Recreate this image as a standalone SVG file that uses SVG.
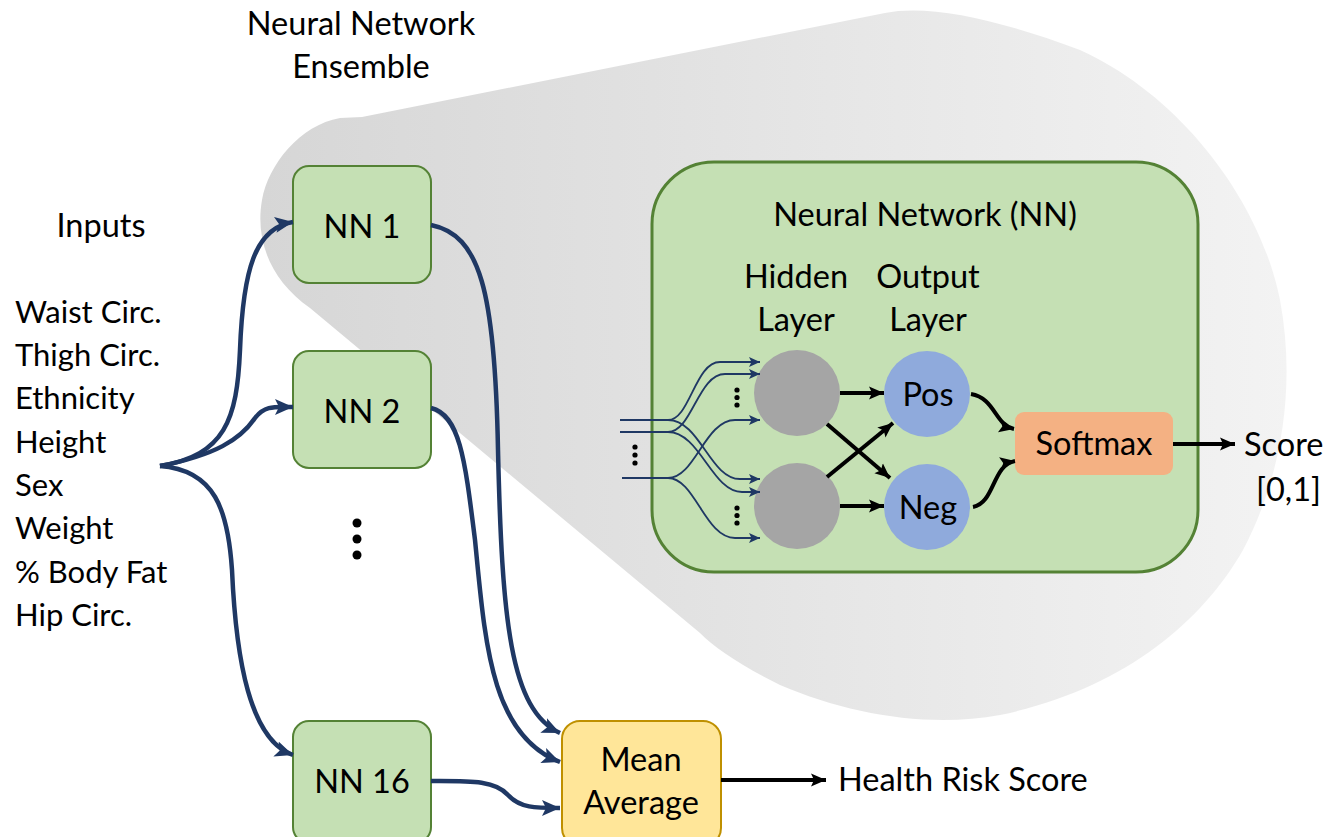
<svg xmlns="http://www.w3.org/2000/svg" width="1341" height="837" viewBox="0 0 1341 837">
<defs>
<linearGradient id="gz" gradientUnits="userSpaceOnUse" x1="260" y1="0" x2="1290" y2="0">
<stop offset="0" stop-color="#d6d6d6"/>
<stop offset="1" stop-color="#f3f3f3"/>
</linearGradient>
<marker id="an" markerUnits="userSpaceOnUse" markerWidth="20" markerHeight="20" viewBox="0 0 20 20" refX="18" refY="10" orient="auto">
<path d="M0,2 L18,10 L0,18 L4,10 Z" fill="#1f3864"/>
</marker>
<marker id="as" markerUnits="userSpaceOnUse" markerWidth="12" markerHeight="12" viewBox="0 0 12 12" refX="11" refY="6" orient="auto">
<path d="M0,1 L11,6 L0,11 L2.5,6 Z" fill="#1f3864"/>
</marker>
<marker id="ab" markerUnits="userSpaceOnUse" markerWidth="16" markerHeight="16" viewBox="0 0 16 16" refX="15" refY="8" orient="auto">
<path d="M0,1.5 L15,8 L0,14.5 L3,8 Z" fill="#000"/>
</marker>
<style>
text{font-family:Lato,"Open Sans","Liberation Sans",sans-serif;fill:#000}
.lbl{font-size:32.5px}
.inp{font-size:31px}
.mid{text-anchor:middle}
.nnbox{fill:#c5e0b4;stroke:#548235;stroke-width:2}
.thick{fill:none;stroke:#1f3864;stroke-width:4.5;marker-end:url(#an)}
.thin{fill:none;stroke:#1f3864;stroke-width:1.8}
.thinA{fill:none;stroke:#1f3864;stroke-width:1.8;marker-end:url(#as)}
.blk{fill:none;stroke:#000;stroke-width:4;marker-end:url(#ab)}
</style>
</defs>

<g id="zoom-region">
<path d="M362,117 L885,13 C930,4 1000,20 1080,50 C1180,95 1260,200 1280,300 C1295,380 1285,470 1243,550 C1200,625 1120,690 1000,715 C930,728 850,715 780,685 C740,665 715,648 700,633 L310,308 C270,280 255,240 262,200 C268,165 300,125 340,118 Z" fill="url(#gz)"/>
</g>

<g id="titles">
<text class="lbl mid" x="361" y="35">Neural Network</text>
<text class="lbl mid" x="361" y="78">Ensemble</text>
<text class="lbl mid" x="101" y="237">Inputs</text>
</g>

<g id="inputs-list">
<text class="inp" x="15" y="323">Waist Circ.</text>
<text class="inp" x="15" y="366">Thigh Circ.</text>
<text class="inp" x="15" y="409">Ethnicity</text>
<text class="inp" x="15" y="453">Height</text>
<text class="inp" x="15" y="496">Sex</text>
<text class="inp" x="15" y="539">Weight</text>
<text class="inp" x="15" y="583">% Body Fat</text>
<text class="inp" x="15" y="626">Hip Circ.</text>
</g>

<g id="nn1">
<rect class="nnbox" x="293" y="166" width="138" height="117" rx="16"/>
<text class="lbl mid" x="362" y="238">NN 1</text>
</g>
<g id="nn2">
<rect class="nnbox" x="293" y="351" width="138" height="117" rx="16"/>
<text class="lbl mid" x="362" y="423">NN 2</text>
</g>
<g id="ellipsis">
<circle cx="357" cy="523" r="4.5"/>
<circle cx="357" cy="539" r="4.5"/>
<circle cx="357" cy="555" r="4.5"/>
</g>
<g id="nn16">
<rect class="nnbox" x="293" y="721" width="138" height="122" rx="16"/>
<text class="lbl mid" x="362" y="793">NN 16</text>
</g>
<g id="mean">
<rect x="562" y="721" width="159" height="125" rx="18" fill="#ffe699" stroke="#bf9000" stroke-width="2"/>
<text class="lbl mid" x="641" y="771">Mean</text>
<text class="lbl mid" x="641" y="814">Average</text>
</g>
<g id="health">
<text class="lbl" x="838" y="791">Health Risk Score</text>
</g>

<g id="nn-detail">
<rect x="652" y="162" width="546" height="410" rx="62" fill="#c5e0b4" stroke="#548235" stroke-width="3"/>
<text class="lbl mid" x="925" y="226">Neural Network (NN)</text>
<text class="lbl mid" x="796" y="288">Hidden</text>
<text class="lbl mid" x="796" y="331">Layer</text>
<text class="lbl mid" x="928" y="288">Output</text>
<text class="lbl mid" x="928" y="331">Layer</text>
</g>
<g id="hidden1"><circle cx="797" cy="393" r="43" fill="#a5a5a5"/></g>
<g id="hidden2"><circle cx="797" cy="506" r="43" fill="#a5a5a5"/></g>
<g id="pos"><circle cx="927" cy="394" r="43" fill="#8faadc"/><text class="lbl mid" x="928" y="406">Pos</text></g>
<g id="neg"><circle cx="927" cy="507" r="43" fill="#8faadc"/><text class="lbl mid" x="928" y="519">Neg</text></g>
<g id="softmax"><rect x="1015" y="412" width="158" height="63" rx="9" fill="#f4b183"/><text class="lbl mid" x="1094" y="455">Softmax</text></g>
<g id="score"><text class="lbl" x="1244" y="456">Score</text><text class="lbl" x="1256" y="501">[0,1]</text></g>
<g id="small-dots">
<circle cx="635" cy="447" r="2.6"/><circle cx="635" cy="455" r="2.6"/><circle cx="635" cy="463" r="2.6"/>
<circle cx="737" cy="390" r="2.6"/><circle cx="737" cy="397.5" r="2.6"/><circle cx="737" cy="405" r="2.6"/>
<circle cx="737" cy="508" r="2.6"/><circle cx="737" cy="515.5" r="2.6"/><circle cx="737" cy="523" r="2.6"/>
</g>

<g id="connectors">
<path class="thick" d="M160,466 C225,455 237,420 240,350 C243,270 255,228 293,222"/>
<path class="thick" d="M160,466 C215,455 240,440 255,418 C265,405 275,407 293,407"/>
<path class="thick" d="M160,466 C215,470 228,510 232,570 C236,660 250,740 293,755"/>
<path class="thick" d="M431,225 C480,235 495,290 498,450 C502,620 510,710 560,733"/>
<path class="thick" d="M431,408 C460,415 465,460 475,540 C485,640 490,735 560,762"/>
<path class="thick" d="M431,781 C470,781 495,780 508,795 C520,808 535,808 560,808"/>
<path class="blk" d="M721,780 L826,780" stroke-width="5"/>

<path class="thin" d="M620,420 L668,420"/>
<path class="thin" d="M620,432 L668,432"/>
<path class="thin" d="M622,478 L668,478"/>
<path class="thinA" d="M668,420 C690,420 695,362 720,362 L760,362"/>
<path class="thinA" d="M668,420 C700,420 710,479 740,479 L760,479"/>
<path class="thinA" d="M668,432 C692,432 698,374 725,374 L760,374"/>
<path class="thinA" d="M668,432 C700,432 712,492 742,492 L760,492"/>
<path class="thinA" d="M668,478 C695,478 705,420 735,420 L760,420"/>
<path class="thinA" d="M668,478 C695,478 705,538 735,538 L760,538"/>

<path class="blk" d="M840,393 L884,393"/>
<path class="blk" d="M840,506 L884,506"/>
<path class="blk" d="M827,424 L890,478"/>
<path class="blk" d="M827,477 L893,423"/>
<path class="blk" d="M971,394 C995,398 995,425 1014,429"/>
<path class="blk" d="M973,507 C995,503 992,465 1015,461"/>
<path class="blk" d="M1173,444 L1235,444" stroke-width="3"/>
</g>
</svg>
